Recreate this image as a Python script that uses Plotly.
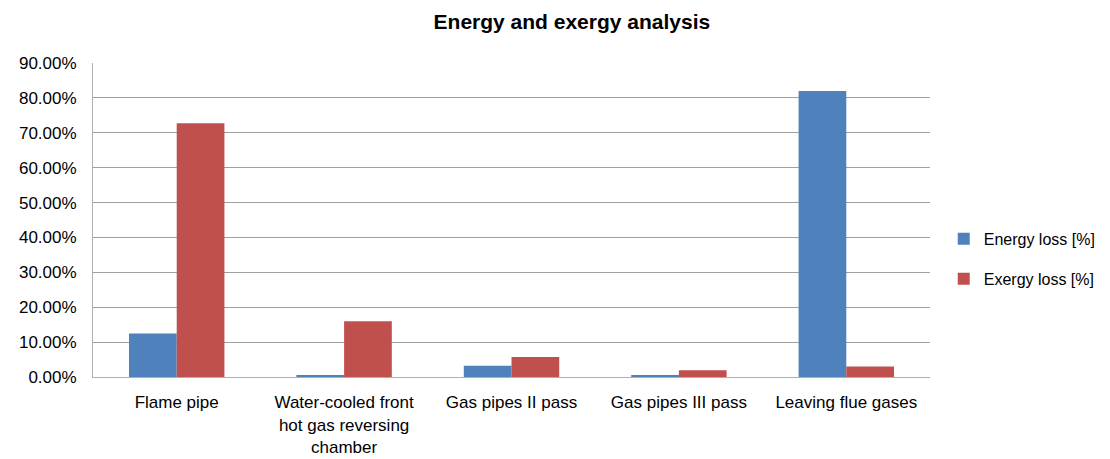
import plotly.graph_objects as go

categories = ["Flame pipe", "Water-cooled front<br>hot gas reversing<br>chamber",
              "Gas pipes II pass", "Gas pipes III pass", "Leaving flue gases"]
energy_loss = [0.125, 0.006, 0.032, 0.003, 0.820]
exergy_loss = [0.727, 0.160, 0.057, 0.019, 0.030]
tick_vals = [0, 0.1, 0.2, 0.3, 0.4, 0.5, 0.6, 0.7, 0.8, 0.9]

fig = go.Figure()
fig.add_trace(go.Bar(x=categories, y=energy_loss, name="Energy loss [%]", legendgroup="a",
                     marker=dict(color="#4F81BD", line=dict(width=0))))
fig.add_trace(go.Bar(x=categories, y=exergy_loss, name="Exergy loss [%]", legendgroup="b",
                     marker=dict(color="#C0504D", line=dict(width=0))))

fig.update_layout(
    width=1110, height=459,
    paper_bgcolor="white", plot_bgcolor="white",
    font=dict(family="Liberation Sans, Arial", size=17, color="#000000"),
    title=dict(text="<b>Energy and exergy analysis</b>", x=0.508, xanchor="center",
               xref="container", y=0.97, yanchor="middle", font=dict(size=21)),
    margin=dict(l=85, r=188, t=55, b=90, autoexpand=False),
    barmode="group", bargap=0.43, bargroupgap=0,
    legend=dict(xref="container", x=0.843, y=0.376, yanchor="middle", xanchor="left",
                font=dict(size=16), itemwidth=30, tracegroupgap=16),
    showlegend=True,
)
fig.update_yaxes(range=[0, 0.9], tickvals=tick_vals, tickformat=".2%",
                 showgrid=True, gridcolor="#A0A0A0", gridwidth=1,
                 showline=True, linecolor="#B0B0B0", linewidth=1,
                 ticks="", ticklabelstandoff=12, zeroline=False)
fig.update_xaxes(showline=True, linecolor="#B0B0B0", linewidth=1,
                 ticks="", tickangle=0, ticklabelstandoff=10)

fig.write_html("out.html")
